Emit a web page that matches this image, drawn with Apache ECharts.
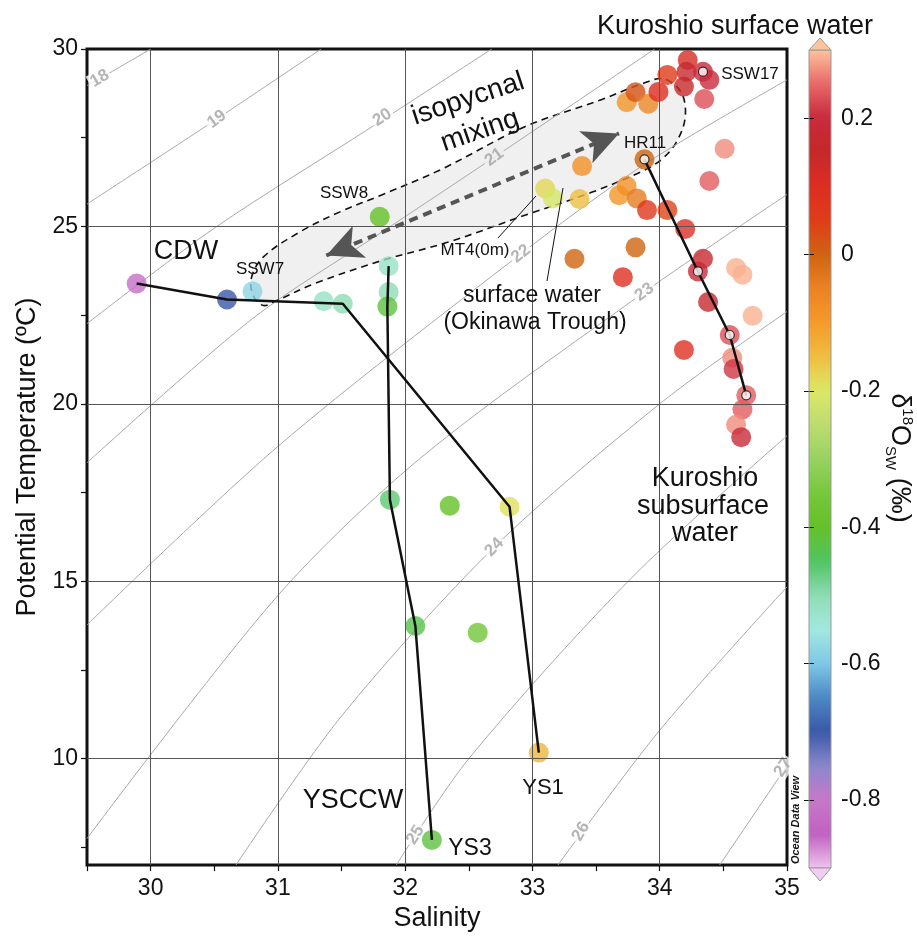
<!DOCTYPE html>
<html>
<head>
<meta charset="utf-8">
<script src="https://cdn.jsdelivr.net/npm/echarts@6/dist/echarts.min.js"></script>
<style>html,body{margin:0;padding:0;background:#fff}#main{width:917px;height:937px}</style>
</head>
<body>
<div id="main"></div>
<script>
// stations: salinity, potential temperature, d18O_sw
var salinity = [29.89,30.60,30.80,31.36,31.51,31.80,31.87,31.87,31.86,31.88,32.35,32.82,32.08,32.57,32.21,33.05,
  33.10,33.16,33.37,33.39,33.68,33.74,33.82,33.90,34.06,34.20,33.88,33.74,33.81,33.91,33.99,34.06,34.19,34.22,34.21,
  34.34,34.39,34.35,34.51,34.39,33.33,33.81,33.71,34.34,34.30,34.38,34.60,34.65,34.73,34.19,34.55,34.57,34.58,34.68,
  34.65,34.60,34.64];
var temperature = [23.39,22.94,23.17,22.89,22.82,25.27,23.88,23.15,22.74,17.30,17.13,17.10,13.74,13.55,7.71,10.17,
  26.07,25.79,25.77,26.70,25.88,26.14,25.79,25.46,25.46,24.93,26.89,28.50,28.78,28.46,28.79,29.27,28.94,29.69,29.36,
  29.36,29.13,28.59,27.19,26.28,24.09,24.41,23.57,24.09,23.73,22.87,23.83,23.64,22.48,21.52,21.94,21.30,20.98,20.24,
  19.84,19.41,19.06];
var d18O = [-0.82,-0.70,-0.58,-0.52,-0.50,-0.40,-0.52,-0.50,-0.42,-0.46,-0.40,-0.19,-0.43,-0.36,-0.42,-0.14,
  -0.18,-0.21,-0.15,-0.08,-0.09,-0.08,-0.04,0.07,0.04,0.10,0.00,-0.09,0.02,-0.06,0.10,0.06,0.15,0.12,0.17,
  0.20,0.20,0.23,0.27,0.24,0.00,0.00,0.10,0.17,0.19,0.17,0.29,0.29,0.29,0.09,0.23,0.27,0.21,0.24,
  0.24,0.27,0.19];
// stations drawn as rings (white centre)
var ringIdx = [26,35,44,50,53];

// profiles joined by black lines
var cdwS = [29.89,30.60,31.51,32.82,33.05], cdwT = [23.39,22.94,22.82,17.10,10.17];
var ys3S = [31.87,31.86,31.88,32.08,32.21], ys3T = [23.88,22.74,17.30,13.74,7.71];
var hrS = [33.88,34.30,34.55,34.68], hrT = [26.89,23.73,21.94,20.24];

// isopycnals (sigma-theta)
var sig18 = [[29.5,28.97],[29.68,29.33],[30.0,30]];
var sig19 = [[29.5,25.63],[30.5,27.98],[31.34,30]];
var sig20 = [[29.5,22.26],[30.5,24.95],[31.74,27.81],[32.68,30]];
var sig21 = [[29.5,18.34],[30.8,22.4],[31.8,24.8],[32.7,26.95],[33.96,30]];
var sig22 = [[29.5,13.77],[31.0,18.8],[32.91,24.23],[33.88,26.75],[35,29.13]];
var sig23 = [[29.5,7.75],[31.0,14.6],[32.13,18.5],[33.88,23.15],[35,25.9]];
var sig24 = [[30.67,7.0],[31.5,11.2],[32.7,15.96],[34.0,20.0],[35,22.6]];
var sig25 = [[31.93,7.0],[32.5,10.0],[33.78,15.1],[35,19.1]];
var sig26 = [[33.2,7.0],[34.0,10.8],[35,14.84]];
var sig27 = [[34.47,7.0],[35,9.8]];
var sigmaLines = [sig18,sig19,sig20,sig21,sig22,sig23,sig24,sig25,sig26,sig27];
var isoNames = ['18','19','20','21','22','23','24','25','26','27'];
var isoLabelS = [29.60,30.52,31.82,32.70,32.91,33.88,32.70,32.08,33.38,34.97];
var isoLabelT = [29.17,28.02,28.07,26.95,24.23,23.15,15.96,7.85,7.95,9.75];
var isoLabelRotate = [30,36,33,36,39,36,46,57,60,56];

// isopycnal mixing envelope and arrow
var mixS = [30.79,30.886,31.185,31.50,31.81,32.285,32.94,33.54,33.86,34.03,34.17,34.20,34.13,34.015,33.86,33.465,32.97,32.34,31.81,31.29,30.99,30.886,30.81];
var mixT = [23.53,24.14,24.87,25.43,25.88,26.61,27.81,28.57,29.02,29.16,28.77,28.07,27.37,26.89,26.55,25.96,25.35,24.56,24.03,23.39,22.91,22.77,23.02];
var arrowS = [31.38,33.68], arrowT = [24.18,27.62];

// axes
var xGrid = [30,31,32,33,34];
var yGrid = [10,15,20,25];
var yLabels = [10,15,20,25,30];
var yTicks = [7.5,10,12.5,15,17.5,20,22.5,25,27.5,30];
var cbTicks = [-0.8,-0.6,-0.4,-0.2,0,0.2];
var cbColors = ['#eec4ee','#c060c0','#c878c8','#8a88cc','#3a58a8','#4c88c4','#7ec8e6','#a4e8e0','#8edcb4',
  '#50c462','#64c028','#76c83c','#98d262','#bcdc70','#dce866','#eebe42','#f59a2a','#ec8224','#cf6412',
  '#e03c18','#dd2e22','#c62828','#c82a3c','#e86868','#fdc39a'];

var FONT = 'Liberation Sans, Arial, sans-serif';
var myChart = echarts.init(document.getElementById('main'));

var series = [];
// shaded mixing envelope
series.push({
  type: 'custom', silent: true, z: 1,
  data: mixS.map(function(s, i){ return [s, mixT[i]]; }),
  renderItem: function(params, api){
    if (params.dataIndex !== 0) return;
    var pts = mixS.map(function(s, i){ return api.coord([s, mixT[i]]); });
    return {type: 'polygon', shape: {points: pts, smooth: 0.35},
      style: {fill: '#f0f0f0', stroke: '#111', lineWidth: 1.6, lineDash: [7, 5]}};
  }
});
// grid lines
series.push({
  type: 'line', data: [[29.5, 7]], symbol: 'none', silent: true, z: 2,
  markLine: {silent: true, symbol: 'none', animation: false, label: {show: false},
    lineStyle: {color: '#555', width: 1, type: 'solid'},
    data: xGrid.map(function(v){ return {xAxis: v}; }).concat(yGrid.map(function(v){ return {yAxis: v}; }))}
});
// isopycnals
sigmaLines.forEach(function(d){
  series.push({type: 'line', data: d, symbol: 'none', smooth: 0.3, silent: true, z: 2,
    lineStyle: {color: '#a8a8a8', width: 1}});
});
series.push({
  type: 'scatter', symbolSize: 1, silent: true, z: 3,
  itemStyle: {color: 'rgba(0,0,0,0)'},
  data: isoNames.map(function(n, i){
    return {value: [isoLabelS[i], isoLabelT[i]], name: n,
      label: {rotate: isoLabelRotate[i], backgroundColor: i === 3 ? '#f0f0f0' : '#fff'}};
  }),
  label: {show: true, position: 'inside', formatter: '{b}', color: '#a3a3a3', fontSize: 17,
    fontWeight: 'bold', fontFamily: FONT, padding: [0, 2]}
});
// stations
var scatterIndex = series.length;
series.push({
  type: 'scatter', symbolSize: 20, z: 4,
  data: salinity.map(function(s, i){ return [s, temperature[i], d18O[i]]; })
});
// profile lines
[[cdwS, cdwT], [ys3S, ys3T], [hrS, hrT]].forEach(function(p){
  series.push({type: 'line', symbol: 'none', z: 5, silent: true,
    data: p[0].map(function(s, i){ return [s, p[1][i]]; }),
    lineStyle: {color: '#111', width: 2.5}});
});
// ring centres
series.push({
  type: 'scatter', symbolSize: 9, z: 6, silent: true,
  data: ringIdx.map(function(i){ return [salinity[i], temperature[i]]; }),
  itemStyle: {color: '#fff', borderColor: '#111', borderWidth: 1.2}
});
// mixing arrow
series.push({
  type: 'line', data: [[arrowS[0], arrowT[0]]], symbol: 'none', z: 5, silent: true,
  markLine: {silent: true, animation: false, symbol: ['arrow', 'arrow'], symbolSize: [26, 36],
    label: {show: false}, itemStyle: {color: '#444'},
    lineStyle: {color: '#555', width: 4, type: [9, 6]},
    data: [[{coord: [arrowS[0], arrowT[0]]}, {coord: [arrowS[1], arrowT[1]]}]]}
});

function txt(t, x, y, fs, extra){
  var o = {type: 'text', x: x, y: y, z: 20, silent: true,
    style: {text: t, fontSize: fs, fontFamily: FONT, fill: '#111', textAlign: 'center', textVerticalAlign: 'middle'}};
  if (extra) { for (var k in extra) o[k] = extra[k]; }
  return o;
}

var option = {
  animation: false,
  textStyle: {fontFamily: FONT},
  grid: [
    {left: 87, top: 49, width: 700, height: 819, show: true, borderColor: '#111', borderWidth: 3, backgroundColor: 'transparent'},
    {left: 809, top: 50, width: 22, height: 818, show: false}
  ],
  xAxis: [
    {type: 'value', min: 29.5, max: 35, interval: 0.5, name: 'Salinity', nameLocation: 'middle', nameGap: 39,
      nameTextStyle: {fontSize: 27, color: '#111'},
      axisLine: {show: false}, splitLine: {show: false},
      axisTick: {show: true, length: 6, lineStyle: {color: '#111', width: 1.2}},
      axisLabel: {fontSize: 23, color: '#111', margin: 12,
        formatter: function(v){ return Number.isInteger(v) ? String(v) : ''; }}},
    {type: 'value', gridIndex: 1, show: false, min: 0, max: 1}
  ],
  yAxis: [
    {type: 'value', min: 7, max: 30, name: 'Potential Temperature (ºC)', nameLocation: 'middle', nameGap: 46,
      nameTextStyle: {fontSize: 27, color: '#111'},
      axisLine: {show: false}, splitLine: {show: false},
      axisTick: {show: true, length: 6, customValues: yTicks, lineStyle: {color: '#111', width: 1.2}},
      axisLabel: {fontSize: 23, color: '#111', margin: 9, customValues: yLabels}},
    {type: 'value', gridIndex: 1, min: -0.9, max: 0.3, position: 'right', z: 10,
      axisLine: {show: false}, splitLine: {show: false},
      axisTick: {show: true, inside: true, length: 5, customValues: cbTicks, lineStyle: {color: '#111', width: 1}},
      axisLabel: {fontSize: 23, color: '#111', margin: 10, customValues: cbTicks,
        formatter: function(v){ return Math.abs(v) < 1e-9 ? '0' : v.toFixed(1); }}},
    {type: 'value', gridIndex: 1, min: -0.9, max: 0.3, position: 'left', z: 10,
      axisLine: {show: false}, splitLine: {show: false},
      axisTick: {show: true, inside: true, length: 5, customValues: cbTicks, lineStyle: {color: '#111', width: 1}},
      axisLabel: {show: false}}
  ],
  visualMap: {
    type: 'continuous', min: -0.9, max: 0.3, dimension: 2, seriesIndex: scatterIndex,
    left: 809, top: 50, itemWidth: 22, itemHeight: 818, padding: 0, calculable: false, hoverLink: false,
    inRange: {color: cbColors}, z: 2
  },
  graphic: [
    {type: 'rect', shape: {x: 809, y: 50, width: 22, height: 818}, z: 15, silent: true,
      style: {fill: 'none', stroke: '#999', lineWidth: 1}},
    {type: 'polygon', shape: {points: [[809, 50], [831, 50], [820, 38]]}, z: 15, silent: true,
      style: {fill: '#fdc39a', stroke: '#999', lineWidth: 1}},
    {type: 'polygon', shape: {points: [[809, 868], [831, 868], [820, 881]]}, z: 15, silent: true,
      style: {fill: '#f2cdf2', stroke: '#999', lineWidth: 1}},
    {type: 'line', shape: {x1: 498, y1: 238, x2: 536, y2: 196}, z: 20, silent: true, style: {stroke: '#111', lineWidth: 1}},
    {type: 'line', shape: {x1: 547, y1: 281, x2: 563, y2: 188}, z: 20, silent: true, style: {stroke: '#111', lineWidth: 1}},
    txt('Kuroshio surface water', 735, 27, 27),
    txt('CDW', 186, 252, 27),
    txt('SSW7', 260, 269, 17),
    txt('SSW8', 344, 193, 17),
    txt('MT4(0m)', 475, 250, 17),
    txt('surface water', 532, 296, 23),
    txt('(Okinawa Trough)', 535, 323, 23),
    txt('HR11', 645, 143, 17),
    txt('SSW17', 750, 74, 17),
    txt('Kuroshio', 705, 479, 27),
    txt('subsurface', 703, 507, 27),
    txt('water', 705, 534, 27),
    txt('YSCCW', 353, 801, 27),
    txt('YS3', 470, 849, 23),
    txt('YS1', 543, 788, 22),
    txt('isopycnal', 468, 99, 28, {rotation: 0.32}),
    txt('mixing', 480, 131, 28, {rotation: 0.33}),
    {type: 'text', x: 796, y: 820, z: 20, silent: true, rotation: Math.PI / 2,
      style: {text: 'Ocean Data View', fontSize: 11, fontWeight: 'bold', fontStyle: 'italic', fontFamily: FONT,
        fill: '#111', textAlign: 'center', textVerticalAlign: 'middle'}},
    {type: 'text', x: 899, y: 458, z: 20, silent: true, rotation: -Math.PI / 2,
      style: {text: '{a|δ}{b|18}{a|O}{c|SW}{a| (‰)}', fontFamily: FONT, fill: '#111',
        textAlign: 'center', textVerticalAlign: 'middle',
        rich: {a: {fontSize: 27, lineHeight: 32, fontFamily: FONT},
          b: {fontSize: 15, lineHeight: 32, verticalAlign: 'top', fontFamily: FONT},
          c: {fontSize: 15, lineHeight: 32, verticalAlign: 'bottom', fontFamily: FONT}}}}
  ],
  series: series
};
myChart.setOption(option);
</script>
</body>
</html>
